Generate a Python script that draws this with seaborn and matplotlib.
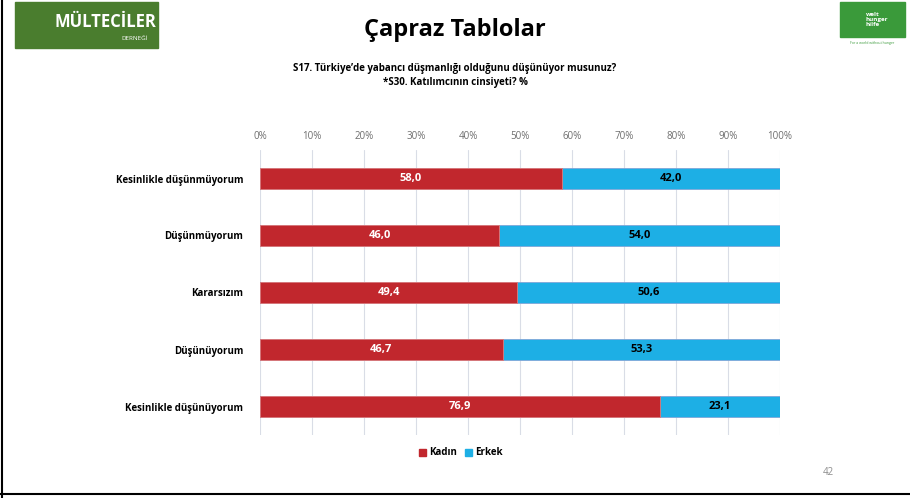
import pandas as pd
import seaborn as sns
import matplotlib.pyplot as plt
from matplotlib.patches import Rectangle

sns.set_style("white")
plt.rcParams['font.family'] = ['Open Sans', 'DejaVu Sans']
plt.rcParams['text.color'] = 'black'

categories = ['Kesinlikle düşünmüyorum', 'Düşünmüyorum', 'Kararsızım',
              'Düşünüyorum', 'Kesinlikle düşünüyorum']
kadin = [58.0, 46.0, 49.4, 46.7, 76.9]
erkek = [42.0, 54.0, 50.6, 53.3, 23.1]
ticks = [0, 10, 20, 30, 40, 50, 60, 70, 80, 90, 100]

red = '#C1272D'
blue = '#1DAFE5'

df = pd.DataFrame({'cat': categories, 'Kadın': kadin, 'Erkek': erkek})
df['total'] = df['Kadın'] + df['Erkek']

fig = plt.figure(figsize=(9.1, 4.98), dpi=100)
ax = fig.add_axes([260 / 910, 1 - 435 / 498, 520 / 910, 285 / 498])

sns.barplot(data=df, y='cat', x='total', color=blue, orient='h', width=0.38,
            edgecolor='#7fa7d8', linewidth=0.6, ax=ax, saturation=1)
sns.barplot(data=df, y='cat', x='Kadın', color=red, orient='h', width=0.38,
            edgecolor='#e07a7a', linewidth=0.6, ax=ax, saturation=1)

for i, (k, e) in enumerate(zip(kadin, erkek)):
    ax.text(k / 2, i, f'{k:.1f}'.replace('.', ','), ha='center', va='center',
            color='white', fontsize=8, fontweight='bold')
    ax.text(k + e / 2, i, f'{e:.1f}'.replace('.', ','), ha='center', va='center',
            color='black', fontsize=8, fontweight='bold')

ax.set_xlim(0, 100)
ax.set_ylim(4.5, -0.5)
ax.set_xticks(ticks)
ax.set_xticklabels([f'{t}%' for t in ticks], color='#6e6e6e', fontsize=7)
ax.xaxis.tick_top()
ax.tick_params(axis='x', length=0, pad=6)
ax.tick_params(axis='y', length=0, pad=12)
ax.set_yticklabels(categories, fontsize=7, fontweight='bold', color='black')
ax.set_xlabel('')
ax.set_ylabel('')
ax.grid(axis='x', color='#d9dde6', linewidth=0.8)
ax.set_axisbelow(True)
for s in ax.spines.values():
    s.set_visible(False)

# legend
fig.patches.append(Rectangle((419 / 910, 1 - 456 / 498), 7 / 910, 7 / 498,
                             transform=fig.transFigure, color=red))
fig.text(429 / 910, 1 - 452 / 498, 'Kadın', fontsize=7, fontweight='bold', va='center')
fig.patches.append(Rectangle((465 / 910, 1 - 456 / 498), 7 / 910, 7 / 498,
                             transform=fig.transFigure, color=blue))
fig.text(475 / 910, 1 - 452 / 498, 'Erkek', fontsize=7, fontweight='bold', va='center')

# titles
fig.text(0.5, 1 - 30 / 498, 'Çapraz Tablolar', ha='center', va='center',
         fontsize=17, fontweight='bold')
fig.text(0.5, 1 - 68 / 498, 'S17. Türkiye’de yabancı düşmanlığı olduğunu düşünüyor musunuz?',
         ha='center', va='center', fontsize=7, fontweight='bold')
fig.text(0.5, 1 - 82 / 498, '*S30. Katılımcının cinsiyeti? %',
         ha='center', va='center', fontsize=7, fontweight='bold')
fig.text(828 / 910, 1 - 472 / 498, '42', ha='center', va='center',
         fontsize=7, color='#8c8c8c')

# logos
fig.patches.append(Rectangle((15 / 910, 1 - 48 / 498), 143 / 910, 46 / 498,
                             transform=fig.transFigure, color='#4a7d2e'))
fig.text(105 / 910, 1 - 22 / 498, 'MÜLTECİLER', ha='center', va='center',
         fontsize=12, fontweight='bold', color='white')
fig.text(135 / 910, 1 - 38 / 498, 'DERNEĞİ', ha='center', va='center',
         fontsize=4.5, color='white')
fig.patches.append(Rectangle((840 / 910, 1 - 37 / 498), 65 / 910, 35 / 498,
                             transform=fig.transFigure, color='#3a9a3a'))
fig.text(866 / 910, 1 - 19 / 498, 'welt\nhunger\nhilfe', ha='left', va='center',
         fontsize=4.5, fontweight='bold', color='white', linespacing=1.0)
fig.text(872 / 910, 1 - 43 / 498, 'For a world without hunger', ha='center',
         va='center', fontsize=2.5, color='#3a9a3a')

# page border
fig.add_artist(plt.Line2D([1.5 / 910, 1.5 / 910], [0, 1], transform=fig.transFigure,
                          color='black', linewidth=1.5))
fig.add_artist(plt.Line2D([0, 1], [4 / 498, 4 / 498], transform=fig.transFigure,
                          color='black', linewidth=1.5))

fig.savefig('out.png', dpi=100)
